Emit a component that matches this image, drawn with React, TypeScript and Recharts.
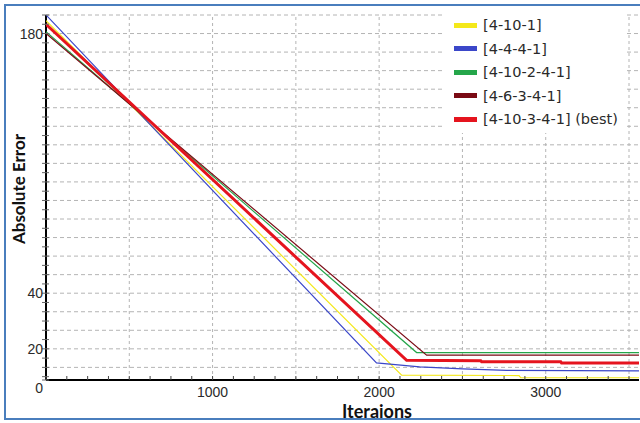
import React from 'react'
import { LineChart, XAxis, YAxis, Line, ReferenceLine } from 'recharts'

// series (in order of the legend)
const seriesNames = ['[4-10-1]', '[4-4-4-1]', '[4-10-2-4-1]', '[4-6-3-4-1]', '[4-10-3-4-1] (best)']
const seriesColors = ['#f4e81a', '#3b47c9', '#25a64a', '#7a0a14', '#e5141e']
const seriesWidths = [1.2, 1.2, 1.2, 1.2, 3]

// iterations (x) vs absolute error (y)
const net4_10_1 = [
  { x: 0, y: 197 }, { x: 2135, y: 5.8 }, { x: 2840, y: 5.6 }, { x: 2850, y: 4.4 }, { x: 3560, y: 4.4 },
]
const net4_4_4_1 = [
  { x: 0, y: 200 }, { x: 1984, y: 12.4 }, { x: 2243, y: 10.3 }, { x: 2502, y: 9.2 }, { x: 2766, y: 8.4 }, { x: 3560, y: 8.1 },
]
const net4_10_2_4_1 = [
  { x: 0, y: 191 }, { x: 2225, y: 18 }, { x: 3560, y: 18 },
]
const net4_6_3_4_1 = [
  { x: 0, y: 190 }, { x: 2285, y: 16.6 }, { x: 3560, y: 16.6 },
]
const net4_10_3_4_1 = [
  { x: 0, y: 195 }, { x: 2165, y: 13.8 }, { x: 2610, y: 13.6 }, { x: 2615, y: 13.1 }, { x: 3090, y: 13.0 }, { x: 3095, y: 12.4 }, { x: 3560, y: 12.4 },
]
const allSeries = [net4_10_1, net4_4_4_1, net4_10_2_4_1, net4_6_3_4_1, net4_10_3_4_1]

// axes
const xDomain = [0, 3560]
const xLabelTicks = [1000, 2000, 3000]
const xGridTicks = [500, 1000, 1500, 2000, 2500, 3000, 3500]
const yDomain = [3.2, 200]
const yLabels: Record<string, string> = { '3.2': '0', '20': '20', '50': '40', '190': '180' }

const xMinorTicks: number[] = []
for (let v = 0; v <= 3500; v += 125) xMinorTicks.push(v)
const yMinorTicks: number[] = [3.2]
for (let v = 5; v <= 200; v += 5) yMinorTicks.push(v)
const yGridTicks: number[] = []
for (let v = 10; v <= 200; v += 10) yGridTicks.push(v)

const tickFont = '"Liberation Sans", Arial, sans-serif'

const XTick = (props: any) => {
  const { x, y, payload } = props
  const v = payload.value
  return (
    <g>
      <line x1={x} x2={x} y1={y} y2={y - 4} stroke="#444" />
      {xLabelTicks.includes(v) && (
        <text x={x} y={y + 17} textAnchor="middle" fontSize={14} fill="#2a2a2a" fontFamily={tickFont}>
          {v}
        </text>
      )}
    </g>
  )
}

const YTick = (props: any) => {
  const { x, y, payload } = props
  const label = yLabels[String(payload.value)]
  return (
    <g>
      <line x1={x - 4} x2={x + 3} y1={y} y2={y} stroke="#666" />
      {label && (
        <text x={x - 3} y={y + (label === '0' ? 13 : 5)} textAnchor="end" fontSize={14} fill="#2a2a2a" fontFamily={tickFont}>
          {label}
        </text>
      )}
    </g>
  )
}

export default function App() {
  return (
    <div style={{ position: 'absolute', left: 0, top: 0, width: 640, height: 423, background: '#fff', overflow: 'hidden' }}>
      <div style={{ position: 'absolute', left: 4, top: 4, width: 680, height: 416, border: '2px solid #4a7ebd', boxSizing: 'border-box' }} />
      <LineChart
        width={640}
        height={423}
        margin={{ top: 15, right: 1, bottom: 0, left: 0 }}
        style={{ position: 'absolute', left: 0, top: 0 }}
      >
        <XAxis
          type="number"
          dataKey="x"
          domain={xDomain}
          ticks={xMinorTicks}
          interval={0}
          height={43}
          tickSize={0}
          tickMargin={0}
          tickLine={false}
          tick={<XTick />}
          axisLine={false}
          allowDataOverflow
        />
        <YAxis
          type="number"
          dataKey="y"
          domain={yDomain}
          ticks={yMinorTicks}
          interval={0}
          width={46}
          tickSize={0}
          tickMargin={0}
          tickLine={false}
          tick={<YTick />}
          axisLine={false}
          allowDataOverflow
        />
        {yGridTicks.map((v) => (
          <ReferenceLine key={'h' + v} y={v} stroke="#b4b4b4" strokeDasharray="4 3" />
        ))}
        {xGridTicks.map((v) => (
          <ReferenceLine key={'v' + v} x={v} stroke="#b4b4b4" strokeDasharray="3 3" />
        ))}
        <ReferenceLine y={yDomain[0]} stroke="#000" strokeWidth={2} />
        <ReferenceLine x={xDomain[0]} stroke="#000" strokeWidth={2} />
        {allSeries.map((d, i) => (
          <Line
            key={seriesNames[i]}
            data={d}
            dataKey="y"
            name={seriesNames[i]}
            type="linear"
            stroke={seriesColors[i]}
            strokeWidth={seriesWidths[i]}
            dot={false}
            activeDot={false}
            isAnimationActive={false}
          />
        ))}
      </LineChart>

      <div style={{ position: 'absolute', left: 443, top: 13, width: 184, height: 120, background: '#fff' }}>
        {seriesNames.map((n, i) => (
          <div key={n} style={{ position: 'absolute', left: 0, top: 3 + i * 23.6, height: 18, display: 'flex', alignItems: 'center' }}>
            <div style={{ width: 23, height: 5, marginLeft: 11, background: seriesColors[i] }} />
            <span style={{ marginLeft: 6, fontFamily: '"DejaVu Sans", sans-serif', fontSize: 14.5, color: '#2a2a2a', whiteSpace: 'nowrap' }}>{n}</span>
          </div>
        ))}
      </div>

      <div
        style={{
          position: 'absolute', left: 18, top: 189, transform: 'translate(-50%, -50%) rotate(-90deg)',
          fontFamily: 'Lato, "Open Sans", sans-serif', fontWeight: 700, fontSize: 17, lineHeight: '17px', color: '#111', whiteSpace: 'nowrap',
        }}
      >
        Absolute Error
      </div>
      <div
        style={{
          position: 'absolute', left: 377, top: 411, transform: 'translate(-50%, -50%)',
          fontFamily: 'Lato, "Open Sans", sans-serif', fontWeight: 700, fontSize: 18, lineHeight: '16px', color: '#111', whiteSpace: 'nowrap',
        }}
      >
        Iteraions
      </div>
    </div>
  )
}
